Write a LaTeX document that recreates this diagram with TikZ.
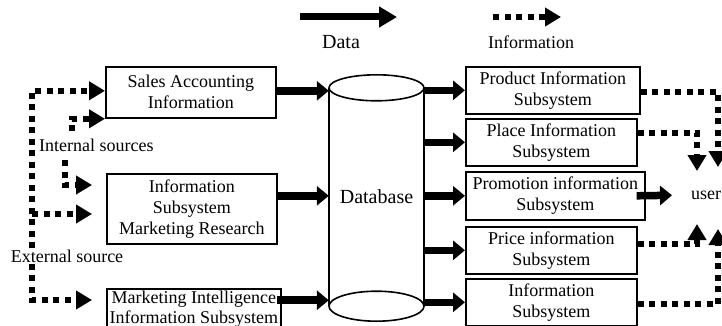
\documentclass[tikz,border=0pt]{standalone}
\usepackage{fontspec}
\setmainfont{Liberation Serif}
\usetikzlibrary{arrows.meta,calc}
\begin{document}
\begin{tikzpicture}[x=1pt,y=-1pt,
  every node/.style={font=\fontsize{18}{21}\selectfont},
  big/.style={font=\fontsize{20}{24}\selectfont},
  box/.style={draw,line width=1.6pt,anchor=north west,align=center,inner sep=0pt},
  data/.style={line width=7.5pt,-{Triangle[length=12pt,width=19pt]}},
  datalegend/.style={line width=7pt,-{Triangle[length=18pt,width=20pt]}},
  info/.style={line width=6pt,dash pattern=on 6pt off 5.5pt,-{Triangle[length=16pt,width=18pt]}},
  lbl/.style={inner sep=1pt,fill=white}]
\useasboundingbox (0,0) rectangle (722,326);
% legend
\coordinate (d1) at (300,17);
\coordinate (d2) at (397,17);
\draw[datalegend] (d1) -- (d2);
\node[big] (dl) at (341,42) {Data};
\coordinate (i1) at (493,17);
\coordinate (i2) at (561,17);
\draw[info] (i1) -- (i2);
\node (il) at (531,42) {Information};
% left boxes
\node[box,minimum width=170pt,minimum height=51pt] (sales) at (105,66) {Sales Accounting\\Information};
\node[box,minimum width=170pt,minimum height=70pt] (mr) at (106,173) {Information\\Subsystem\\Marketing Research};
\node[box,minimum width=174pt,inner ysep=2.5pt,font=\fontsize{18}{19.5}\selectfont] (mi) at (106,288) {Marketing Intelligence\\Information Subsystem};
% database
\node[big,minimum width=95pt,minimum height=218pt,inner sep=0pt] (db) at (376.5,197) {Database};
\draw[line width=1.6pt] (db.north west) -- (db.south west) (db.north east) -- (db.south east);
\draw[line width=1.6pt,fill=white] (db.north) ellipse [x radius=47.5pt,y radius=13pt];
\draw[line width=1.6pt,fill=white] (db.south) ellipse [x radius=47.5pt,y radius=15pt];
% right boxes
\node[box,minimum width=174pt,minimum height=47pt] (prod) at (465,66) {Product Information\\Subsystem};
\node[box,minimum width=171pt,minimum height=47pt] (place) at (465,118) {Place Information\\Subsystem};
\node[box,minimum width=179pt,minimum height=48pt] (promo) at (465,171) {Promotion information\\Subsystem};
\node[box,minimum width=171pt,minimum height=47pt] (price) at (465,226) {Price information\\Subsystem};
\node[box,minimum width=171pt,minimum height=47pt] (isub) at (465,278) {Information\\Subsystem};
\node[anchor=west,inner sep=0pt] (user) at (691,195) {user};
% data arrows into database
\draw[data] ([yshift=1.5pt]sales.east) -- (db.west |- {$(sales.east)+(0,-1.5)$});
\draw[data] ([yshift=13pt]mr.east) -- (db.west |- {$(mr.east)+(0,-13)$});
\draw[data] ([xshift=-5pt,yshift=9pt]mi.east) -- (db.west |- {$(mi.east)+(0,-9)$});
% data arrows out of database
\draw[data] (db.east |- prod.west) -- (prod.west);
\draw[data] (db.east |- place.west) -- (place.west);
\draw[data] (db.east |- promo.west) -- (promo.west);
\draw[data] (db.east |- price.west) -- (price.west);
\draw[data] (db.east |- isub.west) -- (isub.west);
% to user
\draw[data,shorten >=19pt] ([xshift=-9pt]promo.east) -- (user.west);
\coordinate (u1) at (718,167);
\coordinate (u2) at (697,171);
\coordinate (u3) at (697,224);
\coordinate (u4) at (718,229);
\draw[info] ([yshift=-2pt]prod.east) -| (u1);
\draw[info] ([yshift=9.5pt]place.east) -| (u2);
\draw[info] ([yshift=6.5pt]price.east) -| (u3);
\draw[info] ([yshift=-1.5pt]isub.east) -| (u4);
% left side sources
\node[anchor=west,inner sep=1pt] (int) at (38,145) {Internal sources};
\node[lbl] (ext) at (67,256) {External source};
\coordinate (lx) at (32,0);
\coordinate (s2) at (72,131);
\coordinate (s3) at (65,160);
\coordinate (a3) at (92,185);
\coordinate (a4) at (92,214);
\coordinate (a5) at (92,300);
\draw[info] (lx |- ext.north) |- ([yshift=1.5pt]sales.west);
\draw[info] (s2) |- ([yshift=-26.5pt]sales.west);
\draw[info] (s3) |- (a3);
\draw[info] (lx |- a4) -- (a4);
\draw[info] (lx |- ext.south) |- (a5);
\end{tikzpicture}
\end{document}
